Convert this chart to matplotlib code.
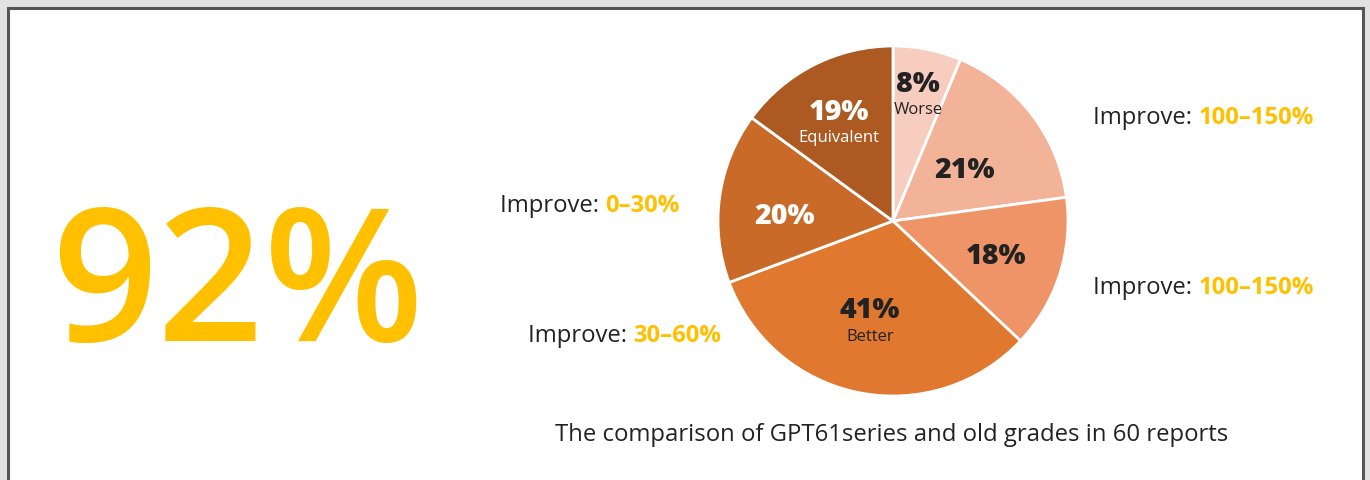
import matplotlib
matplotlib.use("Agg")
import matplotlib.pyplot as plt
from matplotlib.patches import Rectangle

W, H = 1370, 481
plt.rcParams['font.family'] = ['Open Sans', 'DejaVu Sans']

values = [8, 21, 18, 41, 20, 19]
pct_labels = ["8%", "21%", "18%", "41%", "20%", "19%"]
sub_labels = ["Worse", "", "", "Better", "", "Equivalent"]
colors = ["#F6CDBF", "#F2B398", "#EF9466", "#E0782F", "#C96A29", "#AD5A22"]
label_colors = ["#222222", "#222222", "#222222", "#222222", "#FFFFFF", "#FFFFFF"]
label_pos = [(918, 85), (965, 171), (996, 256), (870, 312), (785, 217), (839, 113)]

side_prefix = "Improve: "
side_ranges = ["100–150%", "100–150%", "0–30%", "30–60%"]
side_pos = [(1093, 118), (1093, 288), (500, 206), (528, 336)]

big_number = "92%"
caption = "The comparison of GPT61series and old grades in 60 reports"

DARK = "#222222"
GOLD = "#FFC000"

fig = plt.figure(figsize=(W / 100, H / 100), dpi=100, facecolor="#E2E2E2")

def px(x, y):
    return x / W, 1 - y / H

# white panel with dark frame
fig.patches.append(Rectangle((7.5 / W, 1 - 500 / H), (1362.5 - 7.5) / W, (500 - 8.5) / H,
                             transform=fig.transFigure, facecolor="white",
                             edgecolor="#555555", linewidth=2.2, zorder=-5))

# pie
cx, cy, r = 893, 222, 175
ax = fig.add_axes([(cx - r) / W, (H - cy - r) / H, 2 * r / W, 2 * r / H])
ax.set_zorder(1)
ax.patch.set_visible(False)
ax.pie(values, colors=colors, startangle=90, counterclock=False,
       wedgeprops=dict(edgecolor="white", linewidth=2.0))
ax.set_xlim(-1, 1)
ax.set_ylim(-1, 1)
ax.set_aspect("auto")
ax.axis("off")

for (x, y), p, s, c in zip(label_pos, pct_labels, sub_labels, label_colors):
    if s:
        fig.text(*px(x, y - 1), p, ha="center", va="center", fontsize=20.5,
                 fontweight="heavy", color=c, zorder=5)
        fig.text(*px(x, y + 25), s, ha="center", va="center", fontsize=12, color=c, zorder=5)
    else:
        fig.text(*px(x, y), p, ha="center", va="center", fontsize=20.5,
                 fontweight="heavy", color=c, zorder=5)

# side labels
fig.canvas.draw()
renderer = fig.canvas.get_renderer()
for (x, y), rng in zip(side_pos, side_ranges):
    t = fig.text(*px(x, y), side_prefix, ha="left", va="center", fontsize=17.2, color=DARK)
    bb = t.get_window_extent(renderer)
    fig.text(bb.x1 / W, 1 - y / H, rng, ha="left", va="center", fontsize=17.2,
             fontweight="bold", color=GOLD)

# big number
fig.text(*px(238, 341), big_number, ha="center", va="baseline", fontsize=134,
         fontweight="semibold", color=GOLD)

# caption
fig.text(*px(892, 435), caption, ha="center", va="center", fontsize=17.2, color=DARK)

fig.savefig("out.png", dpi=100, facecolor=fig.get_facecolor())
